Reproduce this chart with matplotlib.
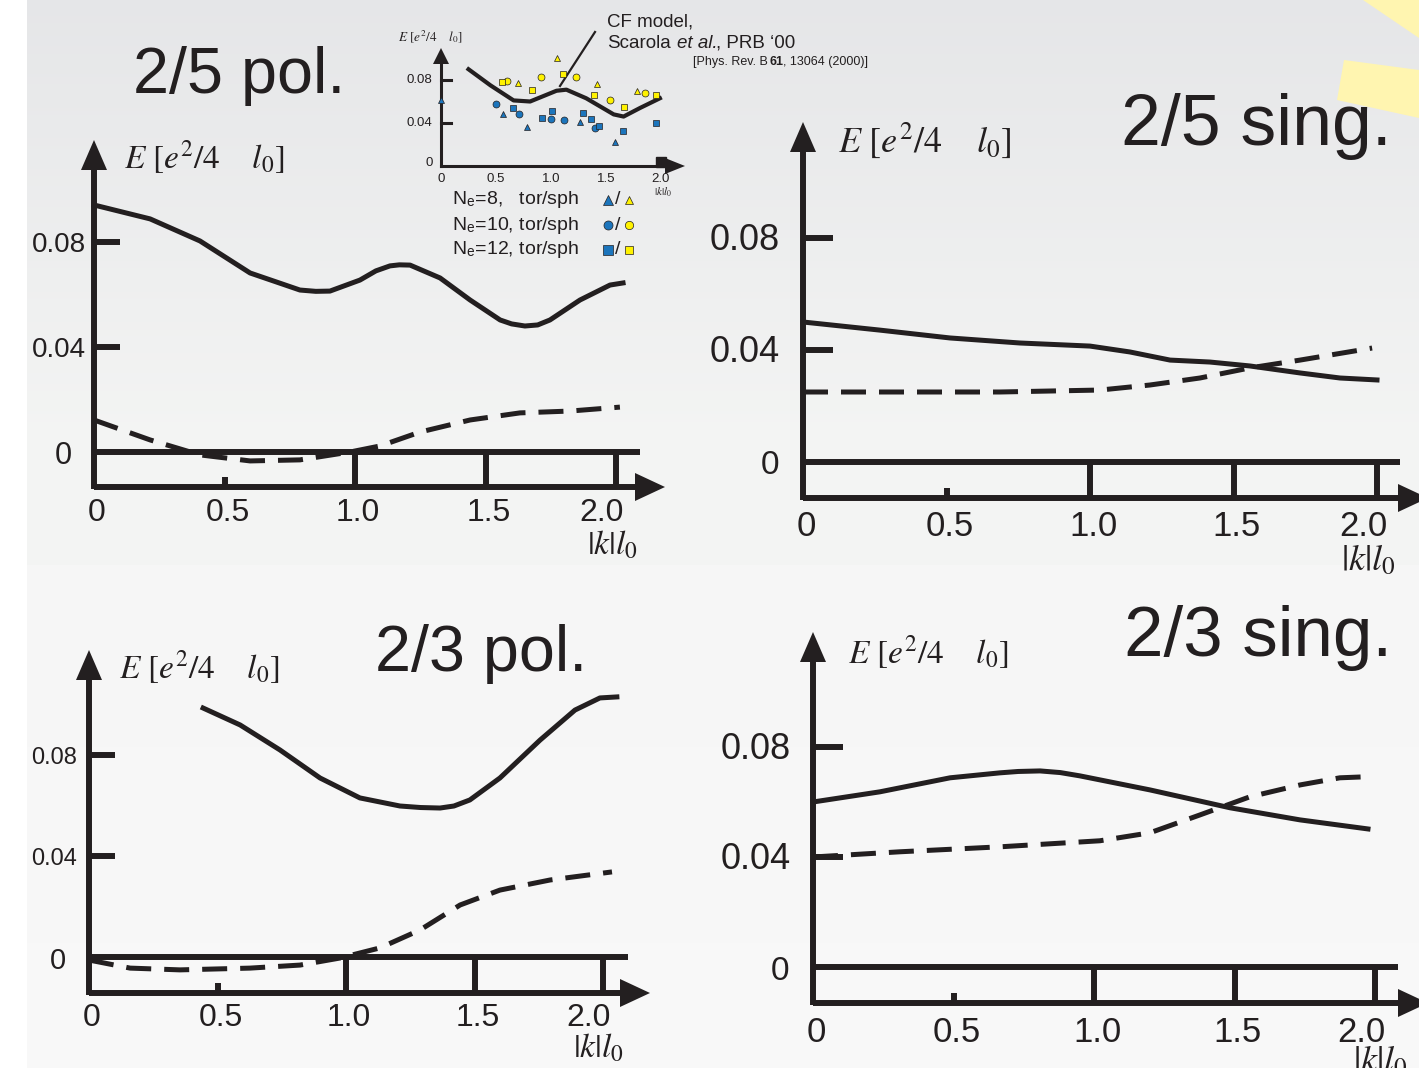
import numpy as np
import matplotlib.pyplot as plt

plt.rcParams['font.family'] = ['Liberation Sans', 'DejaVu Sans']
plt.rcParams['mathtext.fontset'] = 'stix'

W, H = 1419, 1068
INK = '#231f20'
BLUE = '#1c75bc'
YEL = '#fff200'

# ---- data (k l0 , E in e^2/4pi eps l0) ----
k_pol25 = [0, 0.215, 0.406, 0.598, 0.789, 0.85, 0.904, 1.019, 1.08, 1.134, 1.17, 1.211, 1.326, 1.441, 1.556,
           1.60, 1.651, 1.70, 1.747, 1.862, 1.977, 2.027]
E_pol25 = [0.0941, 0.0888, 0.0804, 0.0682, 0.0617, 0.0612, 0.0613, 0.0655, 0.0690, 0.0709, 0.0713, 0.0712,
           0.0663, 0.0579, 0.0503, 0.0488, 0.0480, 0.0484, 0.0503, 0.0579, 0.0636, 0.0644]
k_pol25_d = [0, 0.215, 0.406, 0.598, 0.789, 0.981, 1.096, 1.249, 1.441, 1.632, 1.824, 2.015]
E_pol25_d = [0.0122, 0.0046, -0.0011, -0.0034, -0.0030, 0.0, 0.0023, 0.0076, 0.0122, 0.0149, 0.0156, 0.0171]

k_sing25 = [0, 0.268, 0.512, 0.756, 1.0, 1.139, 1.279, 1.418, 1.557, 1.732, 1.871, 2.0]
E_sing25 = [0.050, 0.0471, 0.0443, 0.0425, 0.0414, 0.0393, 0.0364, 0.0357, 0.0343, 0.0318, 0.0300, 0.0293]
k_sing25_d = [0, 0.338, 0.686, 1.035, 1.209, 1.383, 1.557, 1.732, 1.983]
E_sing25_d = [0.025, 0.025, 0.025, 0.0257, 0.0275, 0.030, 0.0336, 0.0364, 0.0407]

k_pol23 = [0.444, 0.588, 0.743, 0.899, 1.054, 1.210, 1.29, 1.366, 1.42, 1.482, 1.599, 1.755, 1.891, 1.988, 2.054]
E_pol23 = [0.0986, 0.0919, 0.0820, 0.0709, 0.0630, 0.0598, 0.0592, 0.0590, 0.0598, 0.0622, 0.0709, 0.0859,
           0.0978, 0.1026, 0.1030]
k_pol23_d = [0, 0.160, 0.354, 0.626, 0.821, 0.977, 1.132, 1.288, 1.444, 1.599, 1.794, 2.035]
E_pol23_d = [-0.0012, -0.0044, -0.0051, -0.0044, -0.0032, -0.0004, 0.0036, 0.0107, 0.0206, 0.0265, 0.0305, 0.0337]

k_sing23 = [0, 0.238, 0.488, 0.665, 0.73, 0.808, 0.88, 0.950, 1.199, 1.484, 1.733, 1.975]
E_sing23 = [0.060, 0.0637, 0.0688, 0.0706, 0.0711, 0.0713, 0.0707, 0.0695, 0.0644, 0.0579, 0.0535, 0.0502]
k_sing23_d = [0, 0.310, 0.665, 1.021, 1.199, 1.377, 1.555, 1.733, 1.875, 1.975]
E_sing23_d = [0.040, 0.0419, 0.0437, 0.0459, 0.0488, 0.0553, 0.0619, 0.0662, 0.0688, 0.0692]

# inset: CF model and exact diagonalisation points
k_cf = [0.25, 0.45, 0.66, 0.81, 1.05, 1.14, 1.32, 1.57, 1.66, 1.81, 1.99]
E_cf = [0.090, 0.075, 0.061, 0.060, 0.070, 0.071, 0.063, 0.048, 0.046, 0.054, 0.063]
k_sph8 = [0.70, 1.05, 1.42, 1.78]
E_sph8 = [0.0775, 0.100, 0.0766, 0.0698]
k_sph10 = [0.60, 0.91, 1.23, 1.54, 1.85]
E_sph10 = [0.079, 0.083, 0.083, 0.061, 0.068]
k_sph12 = [0.55, 0.83, 1.11, 1.39, 1.66, 1.95]
E_sph12 = [0.078, 0.071, 0.086, 0.066, 0.055, 0.066]
k_tor8 = [0.0, 0.56, 0.78, 1.26, 1.58]
E_tor8 = [0.061, 0.048, 0.036, 0.041, 0.022]
k_tor10 = [0.50, 0.71, 1.00, 1.12, 1.40]
E_tor10 = [0.058, 0.048, 0.044, 0.043, 0.035]
k_tor12 = [0.65, 0.92, 1.01, 1.29, 1.36, 1.44, 1.65, 1.95]
E_tor12 = [0.054, 0.045, 0.051, 0.049, 0.044, 0.0375, 0.033, 0.040]

x_ticks = [0, 0.5, 1.0, 1.5, 2.0]
x_ticklabels = ['0', '0.5', '1.0', '1.5', '2.0']
y_ticks = [0.08, 0.04]
y_ticklabels = ['0.08', '0.04']

fig = plt.figure(figsize=(W / 100, H / 100), dpi=100)

# ---- background: slide gradient + decorative rays ----
bg = fig.add_axes([0, 0, 1, 1], zorder=-5)
bg.set_xlim(0, W)
bg.set_ylim(H, 0)
bg.axis('off')
yy = np.arange(H)
top = np.clip(yy / 430, 0, 1)
g = np.where(yy < 565, 0.90 + 0.055 * top, 0.965 + 0.01 * (yy - 565) / 500)
grad = np.stack([g, g + 0.003 * (yy < 565), g + 0.01 * (yy < 565) * (1 - top)], axis=1)[:, None, :]
bg.imshow(np.clip(grad, 0, 1), extent=(27, W, H, 0), aspect='auto')
bg.fill([1363, 1419, 1419], [0, 0, 38], color='#fff5b0', lw=0)
bg.fill([1344, 1419, 1419, 1337], [60, 70, 118, 100], color='#fff5b0', lw=0)


def make_panel(x0, y0, sx, sy, box):
    L, T, R, B = box
    ax = fig.add_axes([L / W, 1 - B / H, (R - L) / W, (B - T) / H])
    ax.set_xlim((L - x0) / sx, (R - x0) / sx)
    ax.set_ylim((y0 - B) / sy * 0.04, (y0 - T) / sy * 0.04)
    ax.axis('off')
    return ax


def arrow_head(ax, tip, base, hl, hw):
    ax.annotate('', xy=tip, xytext=base,
                arrowprops=dict(arrowstyle=f'-|>,head_length={hl * 0.72},head_width={hw * 0.72}',
                                mutation_scale=1, lw=0, color=INK, shrinkA=0, shrinkB=0),
                annotation_clip=False)


def decorate(ax, p):
    x0, y0, sx, sy = p['x0'], p['y0'], p['sx'], p['sy']
    px2x = lambda px: (px - x0) / sx
    px2y = lambda py: (y0 - py) / sy * 0.04
    dn = 4 / sy * 0.04  # labels sit a few px below their tick
    ybot = px2y(p['bot'])
    ytip = px2y(p['ytip'])
    xtip = px2x(p['xtip'])
    lw = 4.3
    # vertical axis
    ax.plot([0, 0], [ybot - 2.2 / sy * 0.04, px2y(p['ytip'] + 15)], color=INK, lw=lw,
            solid_capstyle='butt', clip_on=False)
    arrow_head(ax, (0, ytip), (0, ybot), 30, 13)
    # bottom axis
    ax.plot([0, px2x(p['xtip'] - 15)], [ybot, ybot], color=INK, lw=lw,
            solid_capstyle='butt', clip_on=False)
    arrow_head(ax, (xtip, ybot), (0, ybot), 30, 14)
    # zero line
    ax.plot([0, px2x(p['zero'])], [0, 0], color=INK, lw=lw, solid_capstyle='butt', clip_on=False)
    # y ticks
    for t in y_ticks:
        ax.plot([0, p['tl'] / sx], [t, t], color=INK, lw=lw, solid_capstyle='butt', clip_on=False)
    # x ticks
    for t in x_ticks[1:]:
        top_y = ybot + 10 / sy * 0.04 if t == 0.5 else 0
        ax.plot([t, t], [ybot, top_y], color=INK, lw=lw, solid_capstyle='butt', clip_on=False)
    # tick labels
    for t, s in zip(y_ticks, y_ticklabels):
        ax.text(p['yl_r'] / sx * -1, t - dn * 0.7, s, ha='right', va='center',
                fontsize=p['fs_y'], color=INK)
    ax.text(-p['z_x'] / sx, -dn, '0', ha='center', va='center', fontsize=p['fs_0'], color=INK)
    for t, s in zip(x_ticks, x_ticklabels):
        off = -14 if t == 2.0 else 3
        ax.text(t + off / sx, px2y(p['xl_y']), s, ha='center', va='center',
                fontsize=p['fs_x'], color=INK)
    ax.text(2.0 + p['kl_dx'] / sx, px2y(p['xl_y'] + p['kl_dy']), r'$|k|l_0$', ha='center',
            va='center', fontsize=p['fs_x'] + 1, color=INK)
    ax.text(px2x(p['lab'][0]), px2y(p['lab'][1]), r'$E\ [e^2/4\quad\ l_0]$', ha='left',
            va='center', fontsize=p['fs_lab'], color=INK)


panels = [
    dict(x0=94, y0=452, sx=261, sy=105, box=(20, 100, 700, 570), bot=487, xtip=665, ytip=140,
         zero=640, tl=26, yl_r=8, z_x=31, fs_y=20, fs_0=22, fs_x=23, xl_y=513, kl_dx=-4, kl_dy=32,
         lab=(124, 157), fs_lab=24, k=k_pol25, E=E_pol25, kd=k_pol25_d, Ed=E_pol25_d),
    dict(x0=803, y0=462, sx=287, sy=112, box=(700, 100, 1419, 580), bot=498, xtip=1428, ytip=122,
         zero=1400, tl=30, yl_r=23, z_x=33, fs_y=26, fs_0=24, fs_x=25, xl_y=527, kl_dx=-9, kl_dy=34,
         lab=(838, 140), fs_lab=26, k=k_sing25, E=E_sing25, kd=k_sing25_d, Ed=E_sing25_d),
    dict(x0=89, y0=957, sx=257, sy=101, box=(20, 620, 700, 1068), bot=993, xtip=650, ytip=650,
         zero=628, tl=26, yl_r=12, z_x=31, fs_y=17, fs_0=21, fs_x=23, xl_y=1018, kl_dx=-5, kl_dy=30,
         lab=(119, 667), fs_lab=24, k=k_pol23, E=E_pol23, kd=k_pol23_d, Ed=E_pol23_d),
    dict(x0=813, y0=967, sx=281, sy=110, box=(700, 620, 1419, 1068), bot=1003, xtip=1428, ytip=632,
         zero=1398, tl=30, yl_r=22, z_x=33, fs_y=26, fs_0=24, fs_x=25, xl_y=1032, kl_dx=5, kl_dy=30,
         lab=(848, 652), fs_lab=24, k=k_sing23, E=E_sing23, kd=k_sing23_d, Ed=E_sing23_d),
]

for p in panels:
    ax = make_panel(p['x0'], p['y0'], p['sx'], p['sy'], p['box'])
    decorate(ax, p)
    ax.plot(p['k'], p['E'], color=INK, lw=3.6, solid_joinstyle='round', clip_on=False)
    ax.plot(p['kd'], p['Ed'], color=INK, lw=3.6, dashes=(5, 2.6), clip_on=False)

# ---- titles ----
bg.text(133, 76, '2/5 pol.', fontsize=46.5, color=INK, ha='left', va='center')
bg.text(1121, 126, '2/5 sing.', fontsize=51.5, color=INK, ha='left', va='center')
bg.text(375, 654, '2/3 pol.', fontsize=46.5, color=INK, ha='left', va='center')
bg.text(1124, 638, '2/3 sing.', fontsize=51, color=INK, ha='left', va='center')

# ---- inset ----
ix0, iy0, isx, isy = 441, 166, 110, 43
ia = make_panel(ix0, iy0, isx, isy, (395, 30, 700, 200))
ia.plot([0, 0], [0, (iy0 - 62) / isy * 0.04], color=INK, lw=2.2, clip_on=False)
arrow_head(ia, (0, (iy0 - 48) / isy * 0.04), (0, 0), 16, 8)
ia.plot([0, (668 - ix0) / isx], [0, 0], color=INK, lw=2.2, clip_on=False)
arrow_head(ia, ((685 - ix0) / isx, 0), (0, 0), 20, 8)
for t, s in zip(y_ticks, y_ticklabels):
    ia.plot([0, 10 / isx], [t, t], color=INK, lw=2.2, clip_on=False)
    ia.text(-9 / isx, t, s, ha='right', va='center', fontsize=9.5, color=INK)
ia.text(-12 / isx, 0.003, '0', ha='center', va='center', fontsize=9.5, color=INK)
for t, s in zip(x_ticks, x_ticklabels):
    ia.text(t, -13 / isy * 0.04, s, ha='center', va='center', fontsize=9.5, color=INK)
ia.plot([2.0], [0.004], marker='s', ms=7, color=INK, clip_on=False)
ia.text(2.02, -26 / isy * 0.04, r'$|k|l_0$', ha='center', va='center', fontsize=8, color=INK)
ia.text(-43 / isx, (iy0 - 37) / isy * 0.04, r'$E\ [e^2/4\quad\ l_0]$', ha='left', va='center',
        fontsize=9.5, color=INK)
ia.plot(k_cf, E_cf, color=INK, lw=3.0, clip_on=False)
mk = dict(ls='none', mec=INK, mew=0.5, ms=5, clip_on=False)
ia.plot(k_sph8, E_sph8, marker='^', mfc=YEL, **mk)
ia.plot(k_sph10, E_sph10, marker='o', mfc=YEL, **mk)
ia.plot(k_sph12, E_sph12, marker='s', mfc=YEL, **mk)
ia.plot(k_tor8, E_tor8, marker='^', mfc=BLUE, **mk)
ia.plot(k_tor10, E_tor10, marker='o', mfc=BLUE, **mk)
ia.plot(k_tor12, E_tor12, marker='s', mfc=BLUE, **mk)

# inset annotation and legend
bg.plot([595, 560], [32, 86], color=INK, lw=1.6)
bg.text(607, 22, 'CF model,', fontsize=13.5, color=INK, ha='left', va='center')
bg.text(607, 43, 'Scarola', fontsize=13.5, color=INK, ha='left', va='center')
bg.text(677, 43, 'et al.', fontsize=13.5, color=INK, ha='left', va='center', fontstyle='italic')
bg.text(716, 43, ', PRB \u201800', fontsize=13.5, color=INK, ha='left', va='center')
bg.text(693, 62, '[Phys. Rev. B', fontsize=9, color=INK, ha='left', va='center')
bg.text(770, 62, '61', fontsize=9, color=INK, ha='left', va='center', fontweight='bold')
bg.text(783, 62, ', 13064 (2000)]', fontsize=9, color=INK, ha='left', va='center')
leg_rows = [('N$_{\\mathregular{e}}$=8,   tor/sph', '^'),
            ('N$_{\\mathregular{e}}$=10, tor/sph', 'o'),
            ('N$_{\\mathregular{e}}$=12, tor/sph', 's')]
for i, (s, m) in enumerate(leg_rows):
    y = 200 + 25 * i
    bg.text(452, y, s, fontsize=14, color=INK, ha='left', va='center')
    bg.plot([608], [y], marker=m, mfc=BLUE, mec=INK, mew=0.5, ms=6.5, ls='none')
    bg.text(618, y, '/', fontsize=14, color=INK, ha='center', va='center')
    bg.plot([629], [y], marker=m, mfc=YEL, mec=INK, mew=0.5, ms=6, ls='none')

fig.savefig('out.png', dpi=100)
